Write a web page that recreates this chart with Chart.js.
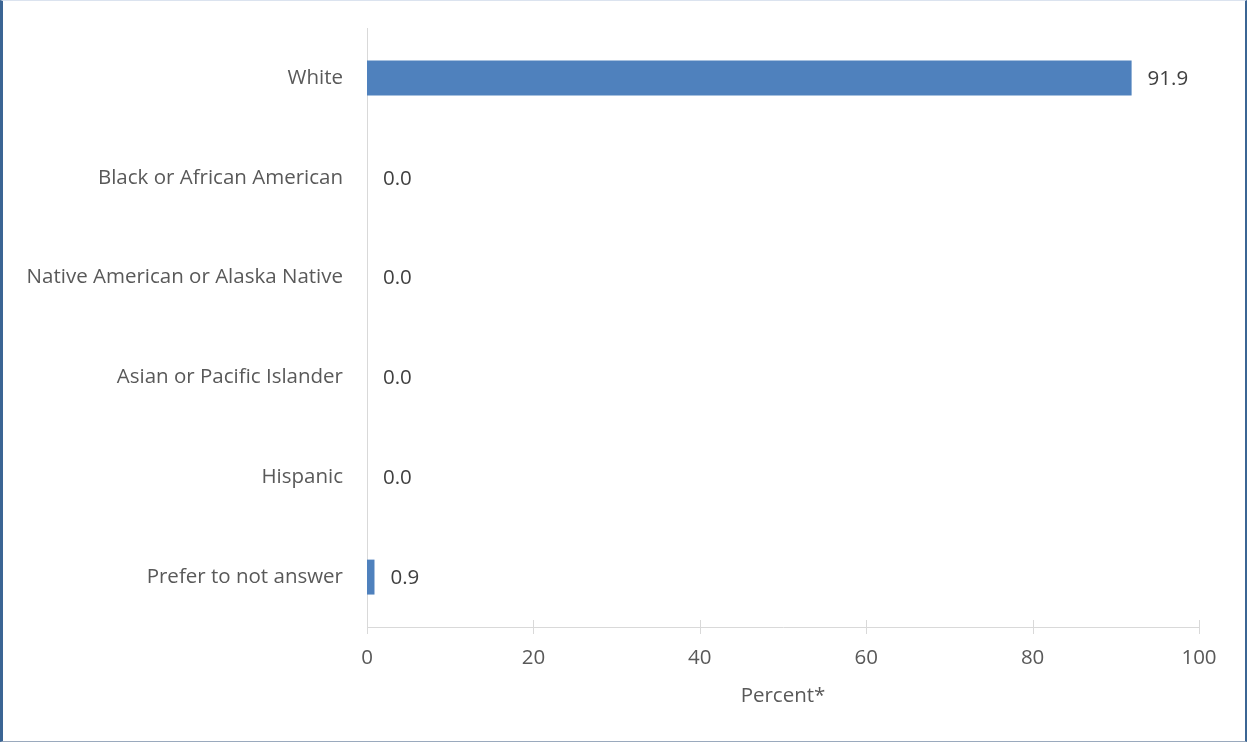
<!DOCTYPE html>
<html>
<head>
<meta charset="utf-8">
<script src="https://cdn.jsdelivr.net/npm/chart.js@4.4.1/dist/chart.umd.min.js"></script>
<style>
  html, body { margin: 0; padding: 0; background: #ffffff; }
  #wrap { position: relative; width: 1247px; height: 742px; overflow: hidden; }
  #c { position: absolute; left: 0; top: 0; }
  #frame { position: absolute; left: 0; top: 0; width: 1247px; height: 742px; box-sizing: border-box;
    border-left: 3px solid #3b6594; border-right: 2px solid #3b6594;
    border-top: 1px solid #dbe3ef; border-bottom: 1px solid #9aa9bd; pointer-events: none; }
</style>
</head>
<body>
<div id="wrap">
  <canvas id="c" width="1247" height="742"></canvas>
  <div id="frame"></div>
</div>
<script>
const categories = [
  "White",
  "Black or African American",
  "Native American or Alaska Native",
  "Asian or Pacific Islander",
  "Hispanic",
  "Prefer to not answer"
];
const percentValues = [91.9, 0.0, 0.0, 0.0, 0.0, 0.9];
const xTickValues = [0, 20, 40, 60, 80, 100];
const xAxisTitle = "Percent*";

const FONT = "'Open Sans', 'Noto Sans', sans-serif";
const FSIZE = 20.5;
const AXIS_COLOR = "#d9d9d9";

const crossTicks = {
  id: "crossTicks",
  afterDraw(chart) {
    const ctx = chart.ctx;
    const xs = chart.scales.x;
    const y0 = chart.chartArea.bottom;
    ctx.save();
    ctx.strokeStyle = AXIS_COLOR;
    ctx.lineWidth = 1;
    xTickValues.forEach(v => {
      const px = Math.round(xs.getPixelForValue(v)) + 0.5;
      ctx.beginPath();
      ctx.moveTo(px, y0 - 7);
      ctx.lineTo(px, y0 + 7);
      ctx.stroke();
    });
    ctx.restore();
  }
};

const valueLabels = {
  id: "valueLabels",
  afterDatasetsDraw(chart) {
    const ctx = chart.ctx;
    const meta = chart.getDatasetMeta(0);
    ctx.save();
    ctx.font = FSIZE + "px " + FONT;
    ctx.fillStyle = "#404040";
    ctx.textAlign = "left";
    ctx.textBaseline = "middle";
    meta.data.forEach((bar, i) => {
      ctx.fillText(percentValues[i].toFixed(1), bar.x + 16, bar.y + 1);
    });
    ctx.restore();
  }
};

new Chart(document.getElementById("c"), {
  type: "bar",
  data: {
    labels: categories,
    datasets: [{
      data: percentValues,
      backgroundColor: "#4f81bd",
      borderWidth: 0,
      barPercentage: 0.35,
      categoryPercentage: 1.0
    }]
  },
  options: {
    indexAxis: "y",
    responsive: false,
    animation: false,
    devicePixelRatio: 1,
    layout: { padding: { left: 0, right: 48, top: 28, bottom: 0 } },
    plugins: { legend: { display: false }, tooltip: { enabled: false } },
    scales: {
      x: {
        type: "linear",
        min: 0,
        max: 100,
        afterBuildTicks(scale) { scale.ticks = xTickValues.map(v => ({ value: v })); },
        afterFit(scale) { scale.height = 115; scale.paddingLeft = 0; scale.paddingRight = 0; },
        grid: { display: false, drawTicks: false },
        border: { display: true, color: AXIS_COLOR, width: 1 },
        ticks: { padding: 19, color: "#595959", font: { family: FONT, size: FSIZE } },
        title: { display: true, text: xAxisTitle, color: "#595959",
          font: { family: FONT, size: FSIZE }, padding: { top: 0, bottom: 34 } }
      },
      y: {
        type: "category",
        afterFit(scale) { scale.width = 367; scale.paddingTop = 0; scale.paddingBottom = 0; },
        grid: { display: false, drawTicks: false },
        border: { display: true, color: AXIS_COLOR, width: 1 },
        ticks: { padding: 24, color: "#595959", font: { family: FONT, size: FSIZE } }
      }
    }
  },
  plugins: [crossTicks, valueLabels]
});
</script>
</body>
</html>
